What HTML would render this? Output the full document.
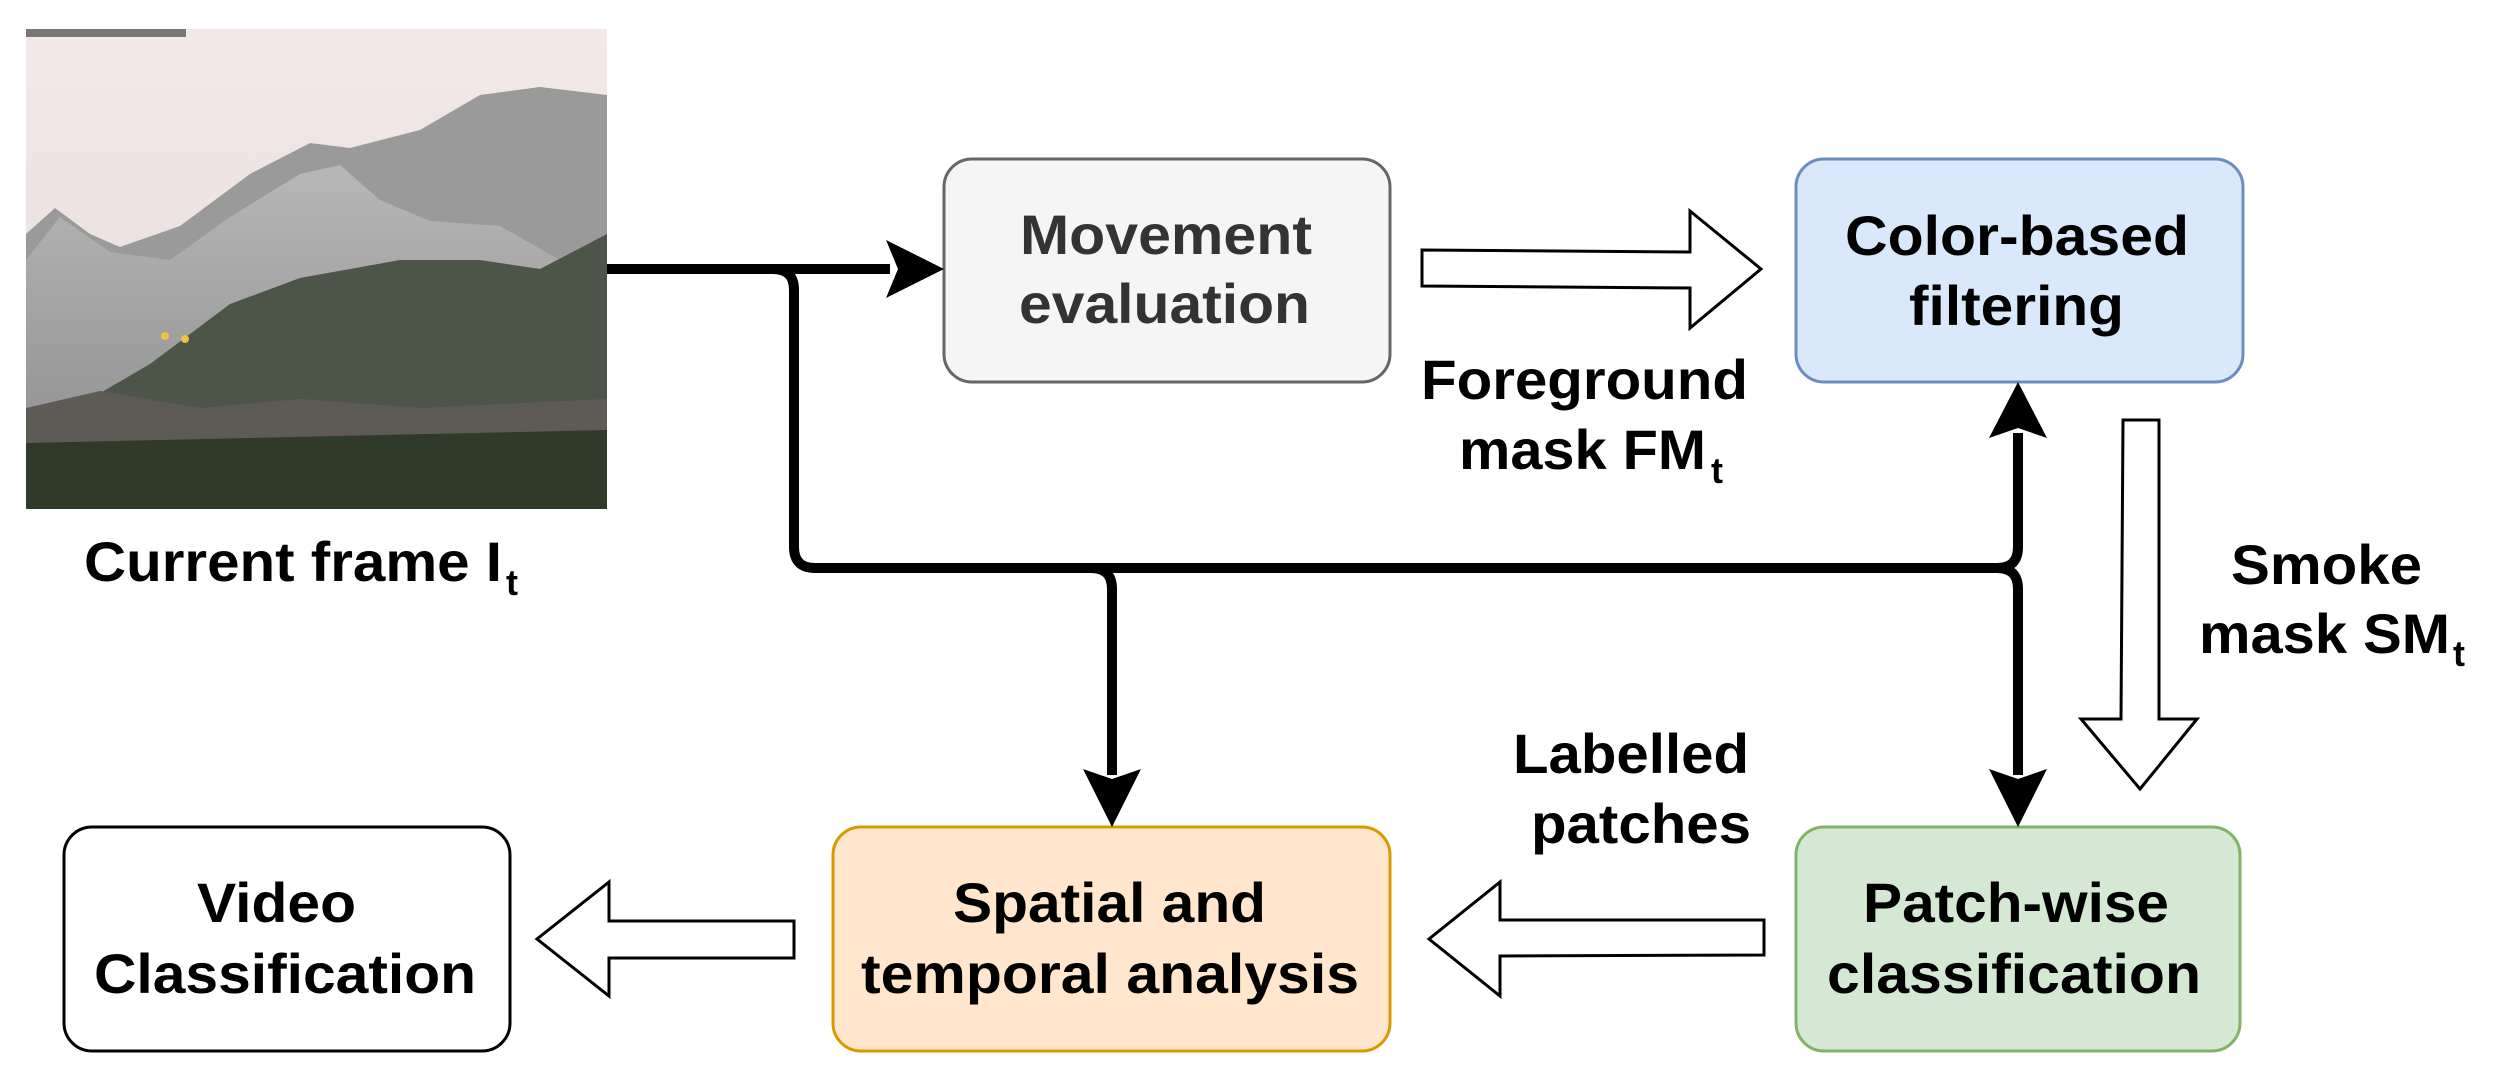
<!DOCTYPE html>
<html><head><meta charset="utf-8"><style>
html,body{margin:0;padding:0;background:#fff;overflow:hidden;}
svg{display:block;}
text{font-family:"Liberation Sans",sans-serif;font-weight:bold;font-size:56px;fill:#000;}
</style></head><body>
<svg width="2496" height="1083" viewBox="0 0 2496 1083" xmlns="http://www.w3.org/2000/svg">
<defs>
<linearGradient id="sky" x1="0" y1="0" x2="0" y2="1"><stop offset="0" stop-color="#f3e8e8"/><stop offset="1" stop-color="#e6dcdc"/></linearGradient>
<linearGradient id="smk" x1="0" y1="0" x2="0" y2="1"><stop offset="0" stop-color="#b8b6b6"/><stop offset="1" stop-color="#8a8a8a"/></linearGradient>
</defs>
<rect x="26" y="29" width="581" height="480" fill="url(#sky)"/>
<path d="M26,234 L55,208 L90,234 L120,247 L180,226 L250,174 L310,143 L350,148 L420,130 L480,95 L540,87 L607,95 L607,509 L26,509Z" fill="#9a9a9a"/>
<path d="M26,260 L60,217 L110,252 L170,260 L230,217 L300,174 L340,165 L380,200 L430,221 L500,226 L560,260 L607,234 L607,509 L26,509Z" fill="url(#smk)"/>
<path d="M150,364 L230,304 L300,278 L400,260 L480,260 L540,269 L607,234 L607,509 L26,509 L26,408 L90,399Z" fill="#4d5549"/>
<path d="M26,408 L100,391 L200,408 L300,399 L420,408 L607,399 L607,509 L26,509Z" fill="#5e5b57"/>
<path d="M26,443 L607,430 L607,509 L26,509Z" fill="#2f3a28"/>
<rect x="26" y="29" width="160" height="8" fill="#777"/>
<circle cx="165" cy="336" r="4" fill="#f4c040"/><circle cx="185" cy="339" r="4" fill="#f4c040"/>
<text x="84" y="581" textLength="418" lengthAdjust="spacingAndGlyphs">Current frame I</text>
<text x="506" y="595" style="font-size:36px">t</text>

<rect x="944" y="159" width="446" height="223" rx="28" fill="#f5f5f5" stroke="#666" stroke-width="3"/>
<rect x="1796" y="159" width="447" height="223" rx="28" fill="#dae8fc" stroke="#6c8ebf" stroke-width="3"/>
<rect x="1796" y="827" width="444" height="224" rx="28" fill="#d5e8d4" stroke="#82b366" stroke-width="3"/>
<rect x="833" y="827" width="557" height="224" rx="28" fill="#ffe6cc" stroke="#d79b00" stroke-width="3"/>
<rect x="64" y="827" width="446" height="224" rx="28" fill="#fff" stroke="#000" stroke-width="3"/>

<text x="1020" y="254" textLength="292" lengthAdjust="spacingAndGlyphs" style="fill:#333">Movement</text>
<text x="1019" y="323" textLength="291" lengthAdjust="spacingAndGlyphs" style="fill:#333">evaluation</text>
<text x="1845" y="255" textLength="344" lengthAdjust="spacingAndGlyphs">Color-based</text>
<text x="1909" y="325" textLength="215" lengthAdjust="spacingAndGlyphs">filtering</text>
<text x="1863" y="922" textLength="306" lengthAdjust="spacingAndGlyphs">Patch-wise</text>
<text x="1827" y="993" textLength="374" lengthAdjust="spacingAndGlyphs">classification</text>
<text x="953" y="922" textLength="313" lengthAdjust="spacingAndGlyphs">Spatial and</text>
<text x="861" y="993" textLength="498" lengthAdjust="spacingAndGlyphs">temporal analysis</text>
<text x="197" y="922" textLength="159" lengthAdjust="spacingAndGlyphs">Video</text>
<text x="94" y="993" textLength="382" lengthAdjust="spacingAndGlyphs">Classification</text>

<text x="1421" y="399" textLength="327" lengthAdjust="spacingAndGlyphs">Foreground</text>
<text x="1459" y="469" textLength="247" lengthAdjust="spacingAndGlyphs">mask FM</text>
<text x="1711" y="483" style="font-size:36px">t</text>
<text x="2231" y="584" textLength="191" lengthAdjust="spacingAndGlyphs">Smoke</text>
<text x="2199" y="653" textLength="251" lengthAdjust="spacingAndGlyphs">mask SM</text>
<text x="2453" y="666" style="font-size:36px">t</text>
<text x="1513" y="773" textLength="236" lengthAdjust="spacingAndGlyphs">Labelled</text>
<text x="1531" y="843" textLength="220" lengthAdjust="spacingAndGlyphs">patches</text>

<g fill="none" stroke="#000" stroke-width="10">
<path d="M607,269 L890,269"/>
<path d="M773,269 Q794,269 794,290 L794,547 Q794,568 815,568 L1997,568 Q2018,568 2018,547 L2018,433"/>
<path d="M1997,568 Q2018,568 2018,589 L2018,775"/>
<path d="M1091,568 Q1112,568 1112,589 L1112,775"/>
</g>
<polygon points="944,269 886,240 898,269 886,298" fill="#000"/>
<polygon points="2018,382 1989,438 2018,428 2047,438" fill="#000"/>
<polygon points="2018,827 1989,769 2018,779 2047,769" fill="#000"/>
<polygon points="1112,827 1083,769 1112,779 1141,769" fill="#000"/>

<g fill="#fff" stroke="#000" stroke-width="3">
<polygon points="1422,250 1690,252 1690,211 1761,269 1690,328 1690,288 1422,286"/>
<polygon points="2123,420 2159,420 2159,719 2197,719 2140,789 2081,719 2121,719"/>
<polygon points="1764,920 1500,920 1500,882 1429,939 1500,996 1500,956 1764,955"/>
<polygon points="794,921 609,921 609,882 537,939 609,996 609,958 794,958"/>
</g>
</svg>
</body></html>
